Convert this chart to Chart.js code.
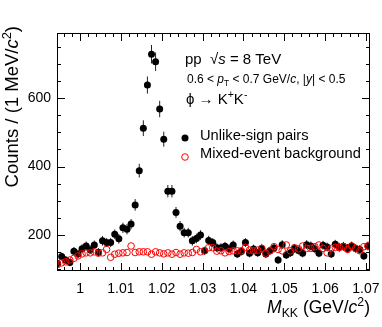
<!DOCTYPE html>
<html>
<head>
<meta charset="utf-8">
<script src="https://cdn.jsdelivr.net/npm/chart.js@4.4.1/dist/chart.umd.min.js"></script>
<style>
  html, body { margin: 0; padding: 0; background: #fff; }
  canvas { display: block; }
</style>
</head>
<body>
<canvas id="massChart" width="382" height="327"></canvas>
<script>
// bin centres (GeV/c^2), 1 MeV bins
const massBins = [
  0.9945, 0.9955, 0.9965, 0.9975, 0.9985, 0.9995,
  1.0005, 1.0015, 1.0025, 1.0035, 1.0045, 1.0055, 1.0065, 1.0075, 1.0085, 1.0095,
  1.0105, 1.0115, 1.0125, 1.0135, 1.0145, 1.0155, 1.0165, 1.0175, 1.0185, 1.0195,
  1.0205, 1.0215, 1.0225, 1.0235, 1.0245, 1.0255, 1.0265, 1.0275, 1.0285, 1.0295,
  1.0305, 1.0315, 1.0325, 1.0335, 1.0345, 1.0355, 1.0365, 1.0375, 1.0385, 1.0395,
  1.0405, 1.0415, 1.0425, 1.0435, 1.0445, 1.0455, 1.0465, 1.0475, 1.0485, 1.0495,
  1.0505, 1.0515, 1.0525, 1.0535, 1.0545, 1.0555, 1.0565, 1.0575, 1.0585, 1.0595,
  1.0605, 1.0615, 1.0625, 1.0635, 1.0645, 1.0655, 1.0665, 1.0675, 1.0685, 1.0695,
  1.0705
];

// unlike-sign pairs
const unlikeSign = [
  117, 137, 127, 120, 153, 145,
  160, 168, 157, 171, 150, 183, 178, 178, 202, 189,
  221, 217, 232, 288, 388, 512, 638, 728, 706, 568,
  480, 328, 328, 266, 226, 207, 207, 183, 190, 200,
  154, 184, 178, 163, 163, 167, 160, 171, 145, 152,
  178, 147, 159, 148, 161, 145, 154, 162, 127, 172,
  142, 148, 161, 155, 147, 172, 168, 160, 147, 170,
  165, 145, 173, 164, 167, 161, 168, 161, 158, 139,
  168
];
const unlikeSignErr = [
  11, 12, 11, 11, 12, 12,
  13, 13, 13, 13, 12, 14, 13, 13, 14, 14,
  15, 15, 15, 17, 20, 23, 25, 27, 27, 24,
  22, 18, 18, 16, 15, 14, 14, 14, 14, 14,
  12, 14, 13, 13, 13, 13, 13, 13, 12, 12,
  13, 12, 13, 12, 13, 12, 12, 13, 11, 13,
  12, 12, 13, 12, 12, 13, 13, 13, 12, 13,
  13, 12, 13, 13, 13, 13, 13, 13, 13, 12,
  13
];

// mixed-event background
const mixedEvent = [
  114, 119, 122, 127, 132, 139,
  145, 148, 148, 151, 147, 148, 158, 135, 144, 147,
  148, 149, 168, 149, 151, 151, 151, 144, 151, 148,
  145, 148, 144, 149, 144, 148, 147, 149, 158, 151,
  154, 163, 163, 153, 154, 148, 152, 154, 154, 154,
  164, 156, 154, 156, 161, 147, 154, 166, 158, 154,
  171, 154, 163, 160, 168, 161, 161, 166, 171, 161,
  148, 161, 164, 164, 166, 158, 168, 161, 154, 166,
  168
];

const xTickValues = [1.00, 1.01, 1.02, 1.03, 1.04, 1.05, 1.06, 1.07];
const yTickValues = [200, 400, 600];

const FONT = '"Liberation Sans", Arial, Helvetica, sans-serif';

function drawRich(ctx, x, y, parts, size) {
  let cx = x;
  parts.forEach(p => {
    const s = size * (p.scale || 1);
    ctx.font = (p.italic ? 'italic ' : '') + s + 'px ' + FONT;
    ctx.fillText(p.text, cx, y + (p.dy || 0));
    cx += ctx.measureText(p.text).width;
  });
  return cx - x;
}

function richWidth(ctx, parts, size) {
  let w = 0;
  parts.forEach(p => {
    ctx.font = (p.italic ? 'italic ' : '') + size * (p.scale || 1) + 'px ' + FONT;
    w += ctx.measureText(p.text).width;
  });
  return w;
}

const framePlugin = {
  id: 'framePlugin',
  beforeDatasetsDraw(chart) {
    const { ctx, scales: { x, y } } = chart;
    ctx.save();
    ctx.strokeStyle = '#222';
    ctx.lineWidth = 1;
    ctx.beginPath();
    massBins.forEach((m, i) => {
      const px = x.getPixelForValue(m);
      ctx.moveTo(px, y.getPixelForValue(unlikeSign[i] - unlikeSignErr[i]));
      ctx.lineTo(px, y.getPixelForValue(unlikeSign[i] + unlikeSignErr[i]));
    });
    ctx.stroke();
    ctx.restore();
  },
  afterDraw(chart) {
    const { ctx, chartArea: a, scales: { x, y } } = chart;
    ctx.save();
    ctx.strokeStyle = '#000';
    ctx.lineWidth = 1;
    ctx.strokeRect(a.left + 0.5, a.top + 0.5, a.right - a.left - 1, a.bottom - a.top - 1);

    // tick marks inside the frame on all sides
    ctx.beginPath();
    for (let v = 0.996; v < x.max; v += 0.002) {
      const px = Math.round(x.getPixelForValue(v)) + 0.5;
      const major = Math.abs(Math.round(v * 100) - v * 100) < 1e-6;
      const len = major ? 8 : 4;
      ctx.moveTo(px, a.bottom); ctx.lineTo(px, a.bottom - len);
      ctx.moveTo(px, a.top); ctx.lineTo(px, a.top + len);
    }
    for (let v = 100; v < y.max; v += 50) {
      const py = Math.round(y.getPixelForValue(v)) + 0.5;
      const len = v % 200 === 0 ? 8 : 4;
      ctx.moveTo(a.left, py); ctx.lineTo(a.left + len, py);
      ctx.moveTo(a.right, py); ctx.lineTo(a.right - len, py);
    }
    ctx.stroke();

    ctx.fillStyle = '#000';
    ctx.textBaseline = 'alphabetic';

    // axis titles
    const xTitle = [
      { text: 'M', italic: true },
      { text: 'KK', scale: 0.7, dy: 4 },
      { text: ' (GeV/' },
      { text: 'c', italic: true },
      { text: '2', scale: 0.7, dy: -7 },
      { text: ')' }
    ];
    const xw = richWidth(ctx, xTitle, 17.5);
    drawRich(ctx, a.right - xw, 313, xTitle, 17.5);

    const yTitle = [
      { text: 'Counts / (1 MeV/' },
      { text: 'c', italic: true },
      { text: '2', scale: 0.7, dy: -7 },
      { text: ')' }
    ];
    const yw = richWidth(ctx, yTitle, 18.5);
    ctx.save();
    ctx.translate(18, 26);
    ctx.rotate(-Math.PI / 2);
    drawRich(ctx, -yw, 0, yTitle, 18.5);
    ctx.restore();

    // annotations
    drawRich(ctx, 185, 64, [
      { text: 'pp  \u221A' },
      { text: 's', italic: true },
      { text: ' = 8 TeV' }
    ], 15);
    drawRich(ctx, 187, 83, [
      { text: '0.6 < ' },
      { text: 'p', italic: true },
      { text: 'T', scale: 0.7, dy: 3 },
      { text: ' < 0.7 GeV/' },
      { text: 'c', italic: true },
      { text: ', |' },
      { text: 'y', italic: true },
      { text: '| < 0.5' }
    ], 12);
    drawRich(ctx, 186, 104, [
      { text: '\u03D5 \u2192 K' },
      { text: '+', scale: 0.7, dy: -6 },
      { text: 'K' },
      { text: '-', scale: 0.7, dy: -6 }
    ], 15);

    // legend
    ctx.beginPath();
    ctx.arc(185, 138, 3.5, 0, Math.PI * 2);
    ctx.fill();
    ctx.beginPath();
    ctx.strokeStyle = '#ff0000';
    ctx.arc(185, 157, 3.3, 0, Math.PI * 2);
    ctx.stroke();
    ctx.font = '14.7px ' + FONT;
    ctx.textBaseline = 'middle';
    ctx.fillText('Unlike-sign pairs', 200, 136);
    ctx.fillText('Mixed-event background', 200, 154);
    ctx.restore();
  }
};

new Chart(document.getElementById('massChart'), {
  type: 'scatter',
  data: {
    datasets: [
      {
        label: 'Mixed-event background',
        data: massBins.map((m, i) => ({ x: m, y: mixedEvent[i] })),
        pointStyle: 'circle',
        pointRadius: 3.3,
        pointBackgroundColor: 'rgba(0,0,0,0)',
        pointBorderColor: '#ff0000',
        pointBorderWidth: 1,
        order: 0
      },
      {
        label: 'Unlike-sign pairs',
        data: massBins.map((m, i) => ({ x: m, y: unlikeSign[i] })),
        pointStyle: 'circle',
        pointRadius: 3.5,
        pointBackgroundColor: '#000',
        pointBorderColor: '#000',
        pointBorderWidth: 0,
        order: 1
      }
    ]
  },
  options: {
    responsive: false,
    animation: false,
    devicePixelRatio: 1,
    layout: { padding: { top: 33, right: 12, left: 0, bottom: 0 } },
    plugins: {
      legend: { display: false },
      tooltip: { enabled: false }
    },
    scales: {
      x: {
        type: 'linear',
        min: 0.99436,
        max: 1.0710,
        afterFit: s => { s.height = 56; s.paddingLeft = 0; s.paddingRight = 0; },
        afterBuildTicks: s => { s.ticks = xTickValues.map(v => ({ value: v })); },
        grid: { display: false, drawTicks: false },
        border: { display: false },
        ticks: {
          padding: 10,
          color: '#000',
          maxRotation: 0,
          autoSkip: false,
          font: { family: FONT, size: 14 },
          callback: v => (Math.abs(v - 1) < 1e-9 ? '1' : v.toFixed(2))
        }
      },
      y: {
        type: 'linear',
        min: 95,
        max: 790,
        afterFit: s => { s.width = 57; s.paddingTop = 0; s.paddingBottom = 0; },
        afterBuildTicks: s => { s.ticks = yTickValues.map(v => ({ value: v })); },
        grid: { display: false, drawTicks: false },
        border: { display: false },
        ticks: {
          padding: 6,
          color: '#000',
          font: { family: FONT, size: 14 },
          callback: v => String(v)
        }
      }
    }
  },
  plugins: [framePlugin]
});
</script>
</body>
</html>
